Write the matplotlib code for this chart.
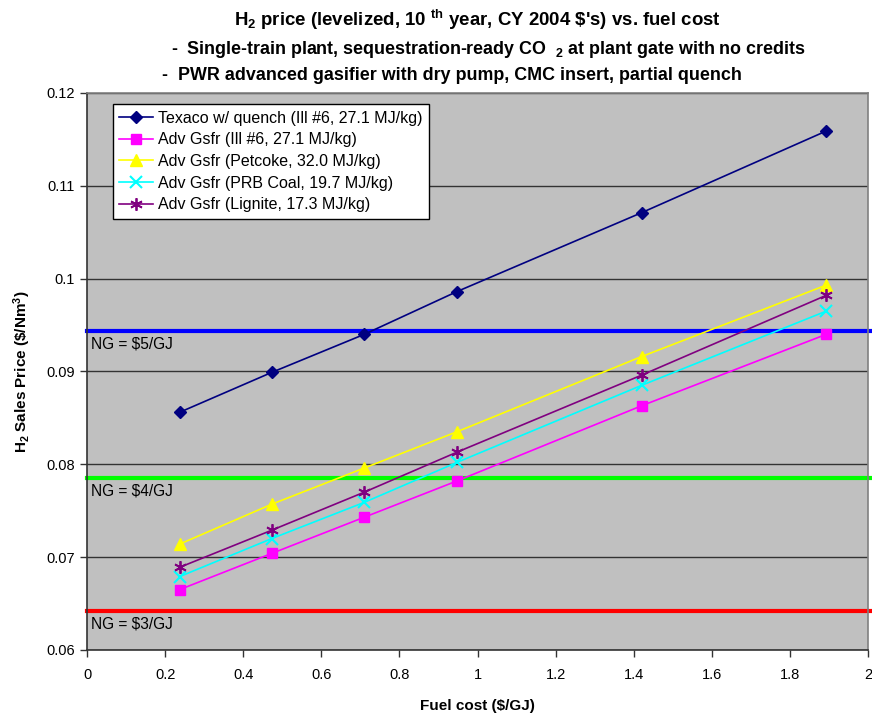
import matplotlib
matplotlib.use("Agg")
import matplotlib.pyplot as plt

plt.rcParams['font.family'] = ['Liberation Sans', 'DejaVu Sans']
plt.rcParams['mathtext.default'] = 'regular'

fuel_cost = [0.237, 0.473, 0.710, 0.947, 1.420, 1.893]
texaco = [0.0856, 0.0899, 0.0940, 0.0986, 0.1071, 0.1159]
adv_ill6 = [0.0665, 0.0704, 0.0743, 0.0782, 0.0863, 0.0940]
adv_petcoke = [0.0714, 0.0757, 0.0796, 0.0835, 0.0916, 0.0993]
adv_prb = [0.0679, 0.0720, 0.0759, 0.0802, 0.0885, 0.0965]
adv_lignite = [0.0689, 0.0729, 0.0770, 0.0813, 0.0896, 0.0982]

series_labels = ["Texaco w/ quench (Ill #6, 27.1 MJ/kg)",
                 "Adv Gsfr (Ill #6, 27.1 MJ/kg)",
                 "Adv Gsfr (Petcoke, 32.0 MJ/kg)",
                 "Adv Gsfr (PRB Coal, 19.7 MJ/kg)",
                 "Adv Gsfr (Lignite, 17.3 MJ/kg)"]

ng_prices = [0.0944, 0.0785, 0.0642]
ng_labels = ["NG = $5/GJ", "NG = $4/GJ", "NG = $3/GJ"]
ng_colors = ["#0000FF", "#00FF00", "#FF0000"]

fig = plt.figure(figsize=(8.72, 7.13), dpi=100)
ax = fig.add_axes([0.0998, 0.0884, 0.8956, 0.7812])
ax.set_facecolor('#C0C0C0')

ax.set_xlim(0, 2)
ax.set_ylim(0.06, 0.12)
ax.set_xticks([0, 0.2, 0.4, 0.6, 0.8, 1, 1.2, 1.4, 1.6, 1.8, 2])
ax.set_xticklabels(["0", "0.2", "0.4", "0.6", "0.8", "1", "1.2", "1.4", "1.6", "1.8", "2"])
ax.set_yticks([0.06, 0.07, 0.08, 0.09, 0.1, 0.11, 0.12])
ax.set_yticklabels(["0.06", "0.07", "0.08", "0.09", "0.1", "0.11", "0.12"])
ax.tick_params(direction='out', length=5, width=1, labelsize=10.5, color='#333333')
ax.tick_params(axis='x', pad=8)
ax.grid(axis='y', color='#333333', linewidth=1)
ax.set_axisbelow(True)
for s in ['left', 'bottom']:
    ax.spines[s].set_color('#333333')
    ax.spines[s].set_linewidth(1.2)
for s in ['top', 'right']:
    ax.spines[s].set_color('#808080')
    ax.spines[s].set_linewidth(1.2)

for val, lab, col in zip(ng_prices, ng_labels, ng_colors):
    ax.plot([0, 2.01], [val, val], color=col, linewidth=3, clip_on=False, zorder=2)
    ax.text(0.01, val - 0.0006, lab, fontsize=11.2, va='top', ha='left', zorder=3)

lw = 1.2
ax.plot(fuel_cost, texaco, color='#000080', marker='D', markersize=6, linewidth=lw,
        label=series_labels[0], zorder=4)
ax.plot(fuel_cost, adv_ill6, color='#FF00FF', marker='s', markersize=7, linewidth=lw,
        label=series_labels[1], zorder=4)
ax.plot(fuel_cost, adv_petcoke, color='#FFFF00', marker='^', markersize=8, linewidth=lw,
        label=series_labels[2], zorder=4)
ax.plot(fuel_cost, adv_prb, color='#00FFFF', marker='x', markersize=8, markeredgewidth=1.5,
        linewidth=lw, label=series_labels[3], zorder=4)
ax.plot(fuel_cost, adv_lignite, color='#800080', marker=(6, 2, 0), markersize=9,
        markeredgewidth=1.3, linewidth=lw, label=series_labels[4], zorder=4)

leg = ax.legend(loc='upper left', bbox_to_anchor=(0.0333, 0.980), fontsize=11.5,
                frameon=True, fancybox=False, framealpha=1, edgecolor='black',
                borderpad=0.4, labelspacing=0.42, handlelength=2.1, handletextpad=0.3,
                borderaxespad=0)
leg.get_frame().set_linewidth(1)

ax.set_xlabel("Fuel cost ($/GJ)", fontsize=11, fontweight='bold', labelpad=12)
ax.set_ylabel("H$_2$ Sales Price (\\$/Nm$^3$)", fontsize=11, fontweight='bold', labelpad=10)

fig.text(0.547, 0.972, "H$_2$ price (levelized, 10 $^{th}$ year, CY 2004 \\$'s) vs. fuel cost",
         ha='center', va='center', fontsize=13.4, fontweight='bold')
fig.text(0.560, 0.930, "-  Single-train plant, sequestration-ready CO  $_2$ at plant gate with no credits",
         ha='center', va='center', fontsize=12.9, fontweight='bold')
fig.text(0.518, 0.894, "-  PWR advanced gasifier with dry pump, CMC insert, partial quench",
         ha='center', va='center', fontsize=12.9, fontweight='bold')

fig.savefig("out.png", dpi=100)
